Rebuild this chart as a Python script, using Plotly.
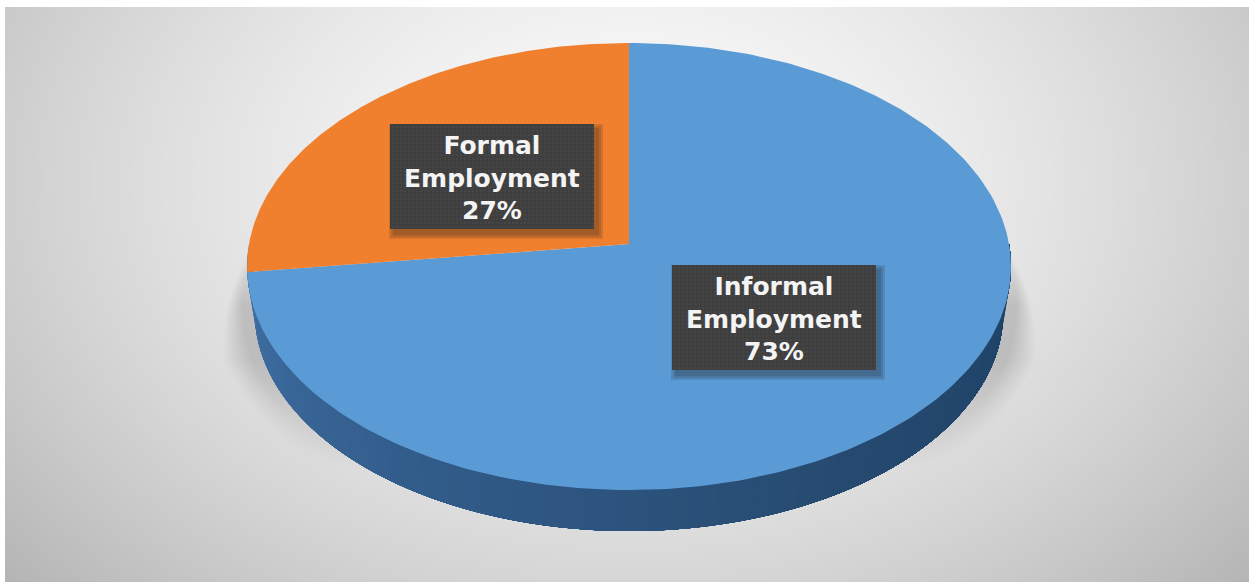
import numpy as np
import plotly.graph_objects as go

# Employment shares
categories = ["Informal Employment", "Formal Employment"]
shares = [73, 27]
slice_colors = ["#5b9bd5", "#f07f2e"]
label_boxes = [(672, 265), (390, 124)]

WIDTH, HEIGHT = 1249, 582
BOX_W, BOX_H = 204, 105

# Perspective view of the tilted disc: centre, half width and near/far rim
CX, CY = 629.0, 244.0
FAR_Y, NEAR_Y = 43.0, 490.0
HALF_W = 380.0
TILT = (2 * CY - NEAR_Y - FAR_Y) / (NEAR_Y - FAR_Y)
SLOPE = NEAR_Y * (1 + TILT) - CY

# The base rim sits lower and slightly smaller than the top rim
RIM_MID_Y = (FAR_Y + NEAR_Y) / 2
BASE_SCALE = 0.98
BASE_MID_Y = 312.0


def project(theta):
    """Map a clockwise angle from 12 o'clock (radians) on the rim to the page."""
    u, v = np.sin(theta), -np.cos(theta)
    w = 1 + TILT * v
    return CX + HALF_W * u / w, (CY + SLOPE * v) / w


def base_rim(px, py):
    return CX + BASE_SCALE * (px - CX), BASE_MID_Y + BASE_SCALE * (py - RIM_MID_Y)


def backdrop():
    """Soft grey radial wash with the disc's cast shadow on both flanks."""
    xs = np.arange(6, WIDTH + 2, 2.0)
    ys = np.arange(8, HEIGHT + 2, 2.0)
    xg, yg = np.meshgrid(xs, ys)
    r = np.sqrt(((xg - 629) / 720) ** 2 + ((yg - 180) / 520) ** 2)
    grey = 250 - 55 * np.clip(r, 0, 1.25) ** 1.6
    e = np.sqrt(((xg - CX) / 382) ** 2 + ((yg - 287) / 244) ** 2)
    spread = 40 * np.clip((yg - 245) / 115, 0.02, 1)
    fall = np.clip((yg - 245) / 60, 0, 1) * np.clip((470 - yg) / 110, 0, 1)
    shade = np.clip(1.4 * (1 - (e - 1) * 382 / spread), 0, 1) * fall
    grey = grey * (1 - 0.16 * shade)
    return xs, ys, grey


fig = go.Figure()

xs, ys, grey = backdrop()
fig.add_trace(go.Heatmap(
    x=xs, y=ys, z=grey, zmin=0, zmax=255, zsmooth="best",
    colorscale=[[0, "#000000"], [1, "#ffffff"]],
    showscale=False, hoverinfo="skip",
))

# Extruded wall along the near half of the rim, darkening towards the right.
# Each band runs on to the far end, so later bands paint over earlier ones
# and no background shows between them.
wall_stops = np.array([[66, 114, 168], [50, 92, 138], [39, 75, 112], [30, 66, 102]], dtype=float)
BANDS = 90
band_starts = np.radians(np.linspace(270, 90, BANDS + 1))[:-1]
for i, a0 in enumerate(band_starts):
    t = i / (BANDS - 1) * (len(wall_stops) - 1)
    rgb = [np.interp(t, range(len(wall_stops)), wall_stops[:, c]) for c in range(3)]
    color = "rgb(%d,%d,%d)" % tuple(rgb)
    seg = np.linspace(a0, np.radians(90), 90)
    px, py = project(seg)
    qx, qy = base_rim(px, py)
    fig.add_trace(go.Scatter(
        x=np.r_[px, qx[::-1]], y=np.r_[py, qy[::-1]],
        mode="lines", fill="toself", line=dict(width=0, color=color),
        fillcolor=color, hoverinfo="skip", showlegend=False,
    ))

# Top face of each slice, built from its share of the total
start = 0.0
total = sum(shares)
for name, share, color in zip(categories, shares, slice_colors):
    sweep = share / total * 2 * np.pi
    arc = np.linspace(start, start + sweep, 240)
    px, py = project(arc)
    fig.add_trace(go.Scatter(
        x=np.r_[CX, px, CX], y=np.r_[CY, py, CY],
        mode="lines", fill="toself", line=dict(width=0, color=color),
        fillcolor=color, name=name, hoverinfo="name", showlegend=False,
    ))
    start += sweep

# Dark label plates with a soft drop shadow and a fine dotted texture
for (bx, by), name, share in zip(label_boxes, categories, shares):
    for grow in (5, 3, 1):
        fig.add_trace(go.Scatter(
            x=[bx + 4 - grow, bx + BOX_W + 4 + grow, bx + BOX_W + 4 + grow, bx + 4 - grow, bx + 4 - grow],
            y=[by + 5 - grow, by + 5 - grow, by + BOX_H + 5 + grow, by + BOX_H + 5 + grow, by + 5 - grow],
            mode="lines", fill="toself", line=dict(width=0),
            fillcolor="rgba(30,30,30,0.14)", hoverinfo="skip", showlegend=False,
        ))
    fig.add_trace(go.Scatter(
        x=[bx, bx + BOX_W, bx + BOX_W, bx, bx], y=[by, by, by + BOX_H, by + BOX_H, by],
        mode="lines", fill="toself", line=dict(width=0),
        fillcolor="#3f3f3f", hoverinfo="skip", showlegend=False,
    ))
    dx, dy = np.meshgrid(np.arange(bx + 3, bx + BOX_W, 4.0), np.arange(by + 3, by + BOX_H, 4.0))
    fig.add_trace(go.Scatter(
        x=dx.ravel(), y=dy.ravel(), mode="markers",
        marker=dict(size=2, color="#4a4a4a", line=dict(width=0)),
        hoverinfo="skip", showlegend=False,
    ))
    first, second = name.split(" ")
    fig.add_annotation(
        x=bx + BOX_W / 2, y=by + BOX_H / 2 + 1.5, xref="x", yref="y",
        text=f"<b>{first}<br>{second}<br>{share}%</b>", showarrow=False,
        font=dict(family="DejaVu Sans", size=25, color="#f4f4f4"),
        align="center", xanchor="center", yanchor="middle",
    )

fig.update_layout(
    width=WIDTH, height=HEIGHT, autosize=False,
    margin=dict(l=0, r=0, t=0, b=0),
    paper_bgcolor="#ffffff", plot_bgcolor="#ffffff", showlegend=False,
    xaxis=dict(range=[0, WIDTH], visible=False, fixedrange=True),
    yaxis=dict(range=[HEIGHT, 0], visible=False, fixedrange=True),
)

fig.write_html("out.html", config=dict(displayModeBar=False))
